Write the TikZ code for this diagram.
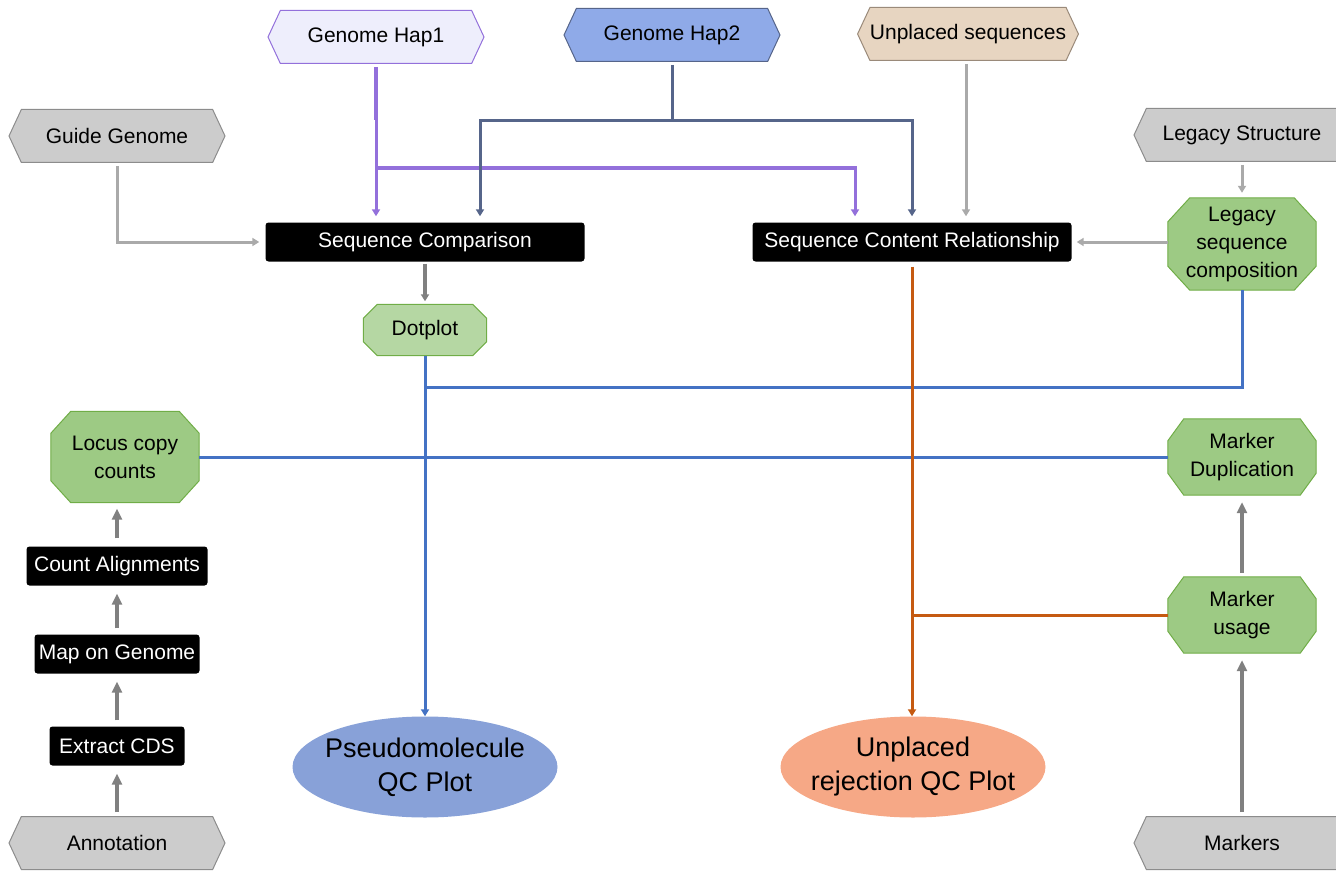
\documentclass[tikz,border=0pt]{standalone}
\usepackage{fontspec}
\setmainfont{Liberation Sans}
\usetikzlibrary{shapes.symbols,shapes.geometric,arrows.meta,calc,backgrounds}
\definecolor{purp}{HTML}{9370DB}
\definecolor{slate}{HTML}{56658A}
\definecolor{blu}{HTML}{4472C4}
\definecolor{orng}{HTML}{C55A11}
\definecolor{lgray}{HTML}{AAAAAA}
\definecolor{dgray}{HTML}{808080}
\definecolor{grfill}{HTML}{9DCA84}
\definecolor{grdraw}{HTML}{70AD47}
\definecolor{hapone}{HTML}{EEEEFC}
\definecolor{haptwo}{HTML}{8FAAE8}
\definecolor{unpfill}{HTML}{E7D5C1}
\definecolor{unpdraw}{HTML}{9A8A7A}
\definecolor{grayfill}{HTML}{CCCCCC}
\definecolor{graydraw}{HTML}{8C8C8C}
\definecolor{pqc}{HTML}{88A1D8}
\definecolor{uqcfill}{HTML}{F6A886}
\tikzset{
  txt/.style={font=\fontsize{21}{28}\selectfont},
  hexa/.style={txt, signal, signal to=east and west, signal from=nowhere,
    signal pointer angle=130, minimum width=216pt, minimum height=53pt,
    inner sep=0pt, line width=1pt},
  proc/.style={txt, fill=black, text=white, rounded corners=3pt,
    minimum height=39pt, inner sep=0pt},
  octa/.style={txt, rectangle, align=center, inner sep=0pt},
  octline/.style={fill=grfill, draw=grdraw, line width=1pt},
  result/.style={ellipse, minimum width=265pt, minimum height=101pt, inner sep=0pt},
  restext/.style={align=center, font=\fontsize{27}{34}\selectfont},
  tip/.style={-{Triangle[width=8pt,length=7pt]}},
  bigtip/.style={-{Triangle[width=10pt,length=11pt]}},
  lgline/.style={lgray, line width=3pt},
  dgline/.style={dgray, line width=3.5pt},
  puline/.style={purp, line width=3pt},
  slline/.style={slate, line width=3pt},
  blline/.style={blu, line width=3pt},
  orline/.style={orng, line width=3pt},
}
% octagon outline behind a named node: #1 style, #2 node, #3 chamfer x, #4 chamfer y
\newcommand\octaround[4]{%
  \begin{scope}[on background layer]
  \path[#1] ($(#2.north west)+(#3,0)$) -- ($(#2.north east)+(-#3,0)$)
    -- ($(#2.north east)+(0,#4)$) -- ($(#2.south east)+(0,-#4)$)
    -- ($(#2.south east)+(-#3,0)$) -- ($(#2.south west)+(#3,0)$)
    -- ($(#2.south west)+(0,-#4)$) -- ($(#2.north west)+(0,#4)$) -- cycle;
  \end{scope}}
\begin{document}
\begin{tikzpicture}[x=1pt,y=-1pt]
\useasboundingbox (0,0) rectangle (1336,872);
% sources
\node[hexa, fill=hapone, draw=purp] (hap1) at (376,37) {Genome Hap1};
\node[hexa, fill=haptwo, draw=slate] (hap2) at (672,35) {Genome Hap2};
\node[hexa, fill=unpfill, draw=unpdraw] (unp) at (968,34) {Unplaced sequences};
\node[hexa, fill=grayfill, draw=graydraw] (guide) at (117,136) {Guide Genome};
\node[hexa, fill=grayfill, draw=graydraw] (legs) at (1242,135) {Legacy Structure};
\node[hexa, fill=grayfill, draw=graydraw] (annot) at (117,843) {Annotation};
\node[hexa, fill=grayfill, draw=graydraw] (markers) at (1242,843) {Markers};
% processes
\node[proc, minimum width=319pt] (sc) at (425,242) {Sequence Comparison};
\node[proc, minimum width=319pt] (scr) at (912,242) {Sequence Content Relationship};
\node[proc, minimum width=181pt] (count) at (117,566) {Count Alignments};
\node[proc, minimum width=165pt] (map) at (117,654) {Map on Genome};
\node[proc, minimum width=135pt] (extract) at (117,746) {Extract CDS};
% green
\node[octa, minimum width=123pt, minimum height=51pt] (dot) at (425,330) {Dotplot};
\node[octa, minimum width=148pt, minimum height=92pt] (legc) at (1242,244) {Legacy\\sequence\\composition};
\node[octa, minimum width=148pt, minimum height=91pt] (locus) at (125,457) {Locus copy\\counts};
\node[octa, minimum width=148pt, minimum height=76pt] (mdup) at (1242,457) {Marker\\Duplication};
\node[octa, minimum width=148pt, minimum height=76pt] (musage) at (1242,615) {Marker\\usage};
\octaround{octline, fill=grfill!75!white}{dot}{14}{14}
\octaround{octline}{legc}{22}{24}
\octaround{octline}{locus}{20}{22}
\octaround{octline}{mdup}{16}{22}
\octaround{octline}{musage}{16}{22}
% results
\node[result, fill=pqc, label={[restext]center:Pseudomolecule\\QC Plot}] (pseudo) at (425,767) {};
\node[result, fill=uqcfill, label={[restext]center:Unplaced\\rejection QC Plot}] (uqc) at (913,767) {};
% junctions
\coordinate (pj) at (376,168);
\coordinate (pk) at (855,168);
\coordinate (pt) at (376,120);
\coordinate (h2j) at (672,121);
\coordinate (h2a) at (480,121);
\coordinate (h2b) at (912,121);
\coordinate (bj) at (1242,387);
% connectors
\draw[puline, line width=4pt, shorten <=3pt] (hap1.south) -- (pt);
\draw[puline, tip, shorten >=6pt] (pt) -- (pt |- sc.north);
\draw[puline, tip, shorten >=6pt] (pj) -- (pk) -- (pk |- scr.north);
\draw[slline, shorten <=3pt] (hap2.south) -- (h2j);
\draw[slline, tip, shorten >=6pt] (h2j) -- (h2a) -- (h2a |- sc.north);
\draw[slline, tip, shorten >=6pt] (h2j) -- (h2b) -- (h2b |- scr.north);
\draw[lgline, tip, shorten >=6pt, shorten <=3pt] (unp.south -| 966,0) -- (966,0 |- scr.north);
\draw[lgline, tip, shorten >=6pt, shorten <=3pt] (guide.south) |- (sc.west);
\draw[lgline, tip, shorten >=5pt, shorten <=3pt] (legs.south) -- (legc.north);
\draw[lgline, tip, shorten >=5pt] (scr.east -| legc.west) -- (scr.east);
\draw[dgline, tip, shorten >=3pt, shorten <=2pt] (sc.south) -- (dot.north);
\draw[blline, tip] (dot.south) -- (pseudo.north);
\draw[blline] (legc.south) -- (bj) -- (bj -| dot.south);
\draw[blline] (locus.east) -- (mdup.west);
\draw[orline, tip, shorten <=5pt] (scr.south) -- (scr.south |- uqc.north);
\draw[orline] (musage.west) -- (musage.west -| scr.south);
\draw[dgline, bigtip, shorten >=7pt, shorten <=4pt] (markers.north) -- (musage.south);
\draw[dgline, bigtip, shorten >=7pt, shorten <=4pt] (musage.north) -- (mdup.south);
\draw[dgline, bigtip, shorten >=8pt, shorten <=4pt] (annot.north) -- (extract.south);
\draw[dgline, bigtip, shorten >=8pt, shorten <=6pt] (extract.north) -- (map.south);
\draw[dgline, bigtip, shorten >=8pt, shorten <=6pt] (map.north) -- (count.south);
\draw[dgline, bigtip, shorten >=6pt, shorten <=8pt] (count.north) -- (count.north |- locus.south);
\end{tikzpicture}
\end{document}
